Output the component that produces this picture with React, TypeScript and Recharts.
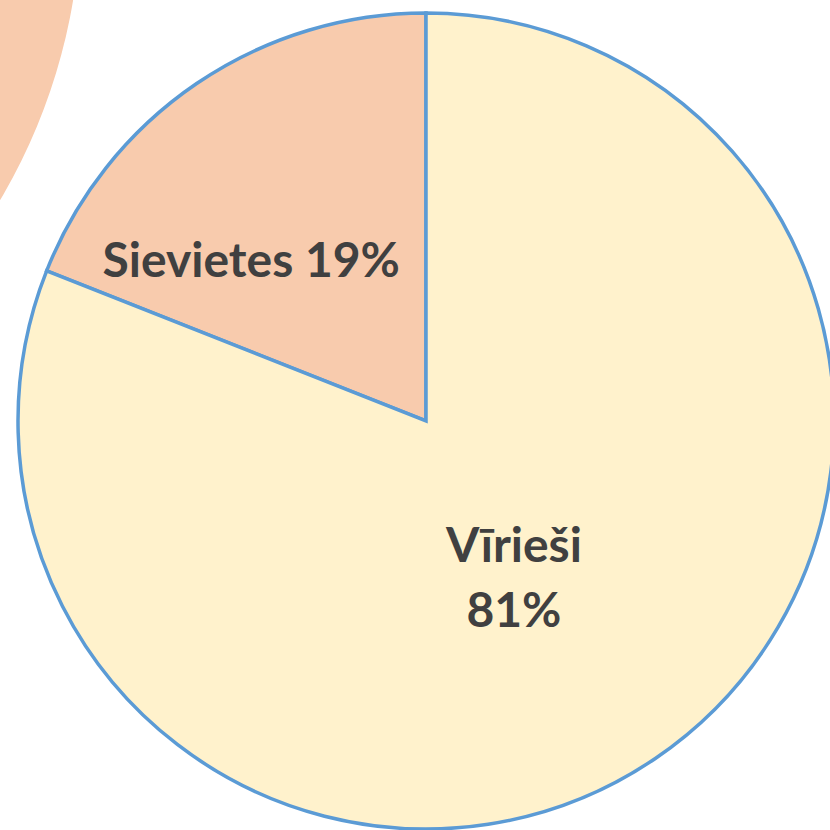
import { Cell, Pie, PieChart } from "recharts";

const categories = ["Sievietes", "Vīrieši"];
const shares = [19, 81];
const sliceColors = ["#F8CBAD", "#FFF2CC"];

const data = categories.map((name, i) => ({ name, value: shares[i] }));
const backdrop = [{ name: "bg", value: 1 }];

const RAD = Math.PI / 180;

// Excel "best fit" puts the labels a bit off the mid angle
const labelTweak: Record<string, { r: number; da: number; oneLine: boolean }> = {
  Sievietes: { r: 239, da: 12.8, oneLine: true },
  Vīrieši: { r: 178, da: -4.6, oneLine: false },
};

function renderLabel(props: any) {
  const { cx, cy, midAngle, name, value } = props;
  const t = labelTweak[name];
  const a = (midAngle + t.da) * RAD;
  const x = cx + t.r * Math.cos(a);
  const y = cy - t.r * Math.sin(a);
  const style = {
    fontFamily: "Lato, 'Open Sans', sans-serif",
    fontWeight: 700,
    fontSize: 48,
    fill: "#404040",
  };
  if (t.oneLine) {
    return (
      <text x={x} y={y} textAnchor="middle" dominantBaseline="central" style={style}>
        {`${name} ${value}%`}
      </text>
    );
  }
  return (
    <text x={x} y={y} textAnchor="middle" dominantBaseline="central" style={style}>
      <tspan x={x} dy={-33}>{name}</tspan>
      <tspan x={x} dy={65}>{`${value}%`}</tspan>
    </text>
  );
}

export default function App() {
  return (
    <div style={{ position: "absolute", left: 0, top: 0, width: 830, height: 830, background: "#fff" }}>
      <PieChart width={830} height={830} margin={{ top: 0, right: 0, bottom: 0, left: 0 }}>
        <Pie
          data={backdrop}
          dataKey="value"
          cx={-498}
          cy={-95}
          outerRadius={579}
          fill="#F8CBAD"
          stroke="none"
          isAnimationActive={false}
          label={false}
        />
        <Pie
          data={data}
          dataKey="value"
          cx={426}
          cy={421}
          outerRadius={408}
          startAngle={90}
          endAngle={450}
          stroke="#5B9BD5"
          strokeWidth={3.5}
          labelLine={false}
          label={renderLabel}
          isAnimationActive={false}
        >
          {data.map((d, i) => (
            <Cell key={d.name} fill={sliceColors[i]} />
          ))}
        </Pie>
      </PieChart>
    </div>
  );
}
